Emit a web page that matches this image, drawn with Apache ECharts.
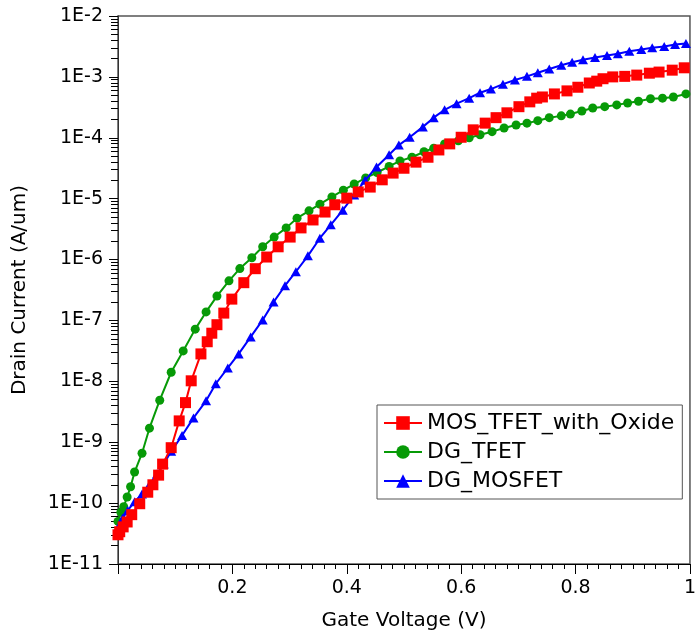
<!DOCTYPE html>
<html>
<head>
<meta charset="utf-8">
<script src="https://cdn.jsdelivr.net/npm/echarts@6/dist/echarts.min.js"></script>
<style>
  html, body { margin: 0; padding: 0; background: #fff; }
  #chart { width: 699px; height: 639px; }
</style>
</head>
<body>
<div id="chart"></div>
<script>
// Gate voltage (V) and drain current (A/um) for each device
const gateRed = [0.000, 0.003, 0.009, 0.016, 0.024, 0.038, 0.052, 0.061, 0.071, 0.078, 0.093, 0.107, 0.118, 0.128, 0.145, 0.156, 0.164, 0.173, 0.185, 0.199, 0.220, 0.240, 0.260, 0.280, 0.301, 0.320, 0.341, 0.362, 0.379, 0.400, 0.420, 0.441, 0.462, 0.481, 0.500, 0.521, 0.542, 0.561, 0.580, 0.600, 0.621, 0.642, 0.661, 0.680, 0.701, 0.720, 0.732, 0.742, 0.763, 0.785, 0.804, 0.824, 0.837, 0.848, 0.865, 0.886, 0.907, 0.929, 0.946, 0.969, 0.990];
const currentRed = [3.02e-11, 3.39e-11, 4.07e-11, 4.90e-11, 6.46e-11, 9.77e-11, 1.51e-10, 2.00e-10, 2.88e-10, 4.37e-10, 8.13e-10, 2.24e-9, 4.47e-9, 1.02e-8, 2.82e-8, 4.47e-8, 6.17e-8, 8.51e-8, 1.32e-7, 2.24e-7, 4.17e-7, 7.08e-7, 1.10e-6, 1.62e-6, 2.34e-6, 3.31e-6, 4.47e-6, 6.03e-6, 7.94e-6, 1.02e-5, 1.29e-5, 1.55e-5, 2.04e-5, 2.63e-5, 3.16e-5, 3.98e-5, 4.79e-5, 6.31e-5, 7.94e-5, 1.02e-4, 1.35e-4, 1.74e-4, 2.14e-4, 2.57e-4, 3.24e-4, 3.89e-4, 4.47e-4, 4.68e-4, 5.25e-4, 5.89e-4, 6.76e-4, 7.94e-4, 8.51e-4, 9.33e-4, 1.00e-3, 1.02e-3, 1.07e-3, 1.15e-3, 1.20e-3, 1.29e-3, 1.41e-3];

const gateGreen = [0.000, 0.005, 0.010, 0.016, 0.022, 0.029, 0.042, 0.055, 0.073, 0.093, 0.114, 0.135, 0.154, 0.173, 0.194, 0.213, 0.234, 0.253, 0.273, 0.294, 0.313, 0.334, 0.353, 0.374, 0.394, 0.413, 0.433, 0.453, 0.474, 0.493, 0.514, 0.535, 0.552, 0.571, 0.595, 0.614, 0.633, 0.654, 0.675, 0.696, 0.715, 0.734, 0.754, 0.775, 0.791, 0.811, 0.830, 0.851, 0.872, 0.891, 0.910, 0.931, 0.952, 0.971, 0.993];
const currentGreen = [5.0e-11, 7.1e-11, 8.7e-11, 1.26e-10, 1.86e-10, 3.24e-10, 6.6e-10, 1.70e-9, 4.9e-9, 1.41e-8, 3.16e-8, 7.2e-8, 1.38e-7, 2.51e-7, 4.47e-7, 7.1e-7, 1.07e-6, 1.62e-6, 2.34e-6, 3.31e-6, 4.79e-6, 6.31e-6, 8.13e-6, 1.07e-5, 1.38e-5, 1.74e-5, 2.19e-5, 2.69e-5, 3.39e-5, 4.17e-5, 4.79e-5, 5.89e-5, 6.76e-5, 7.94e-5, 8.91e-5, 1.00e-4, 1.12e-4, 1.26e-4, 1.45e-4, 1.62e-4, 1.74e-4, 1.91e-4, 2.14e-4, 2.29e-4, 2.45e-4, 2.75e-4, 3.09e-4, 3.24e-4, 3.47e-4, 3.72e-4, 3.98e-4, 4.37e-4, 4.47e-4, 4.68e-4, 5.25e-4];

const gateBlue = [0.000, 0.008, 0.017, 0.029, 0.042, 0.055, 0.068, 0.080, 0.093, 0.112, 0.132, 0.154, 0.171, 0.192, 0.211, 0.232, 0.253, 0.272, 0.292, 0.311, 0.332, 0.353, 0.372, 0.393, 0.413, 0.432, 0.452, 0.474, 0.491, 0.510, 0.533, 0.552, 0.571, 0.592, 0.614, 0.633, 0.652, 0.673, 0.694, 0.715, 0.734, 0.754, 0.775, 0.794, 0.813, 0.834, 0.855, 0.874, 0.894, 0.915, 0.934, 0.955, 0.974, 0.993];
const currentBlue = [3.98e-11, 5.62e-11, 7.59e-11, 1.05e-10, 1.41e-10, 2.00e-10, 3.02e-10, 4.37e-10, 7.08e-10, 1.29e-9, 2.51e-9, 4.79e-9, 9.12e-9, 1.66e-8, 2.82e-8, 5.37e-8, 1.02e-7, 2.00e-7, 3.72e-7, 6.31e-7, 1.15e-6, 2.24e-6, 3.72e-6, 6.46e-6, 1.15e-5, 2.00e-5, 3.31e-5, 5.25e-5, 7.59e-5, 1.02e-4, 1.51e-4, 2.14e-4, 2.88e-4, 3.63e-4, 4.47e-4, 5.50e-4, 6.31e-4, 7.59e-4, 8.91e-4, 1.02e-3, 1.17e-3, 1.35e-3, 1.55e-3, 1.74e-3, 1.91e-3, 2.09e-3, 2.24e-3, 2.40e-3, 2.63e-3, 2.82e-3, 3.02e-3, 3.16e-3, 3.39e-3, 3.55e-3];

const seriesNames = ['MOS_TFET_with_Oxide', 'DG_TFET', 'DG_MOSFET'];
const xTickLabels = ['0', '0.2', '0.4', '0.6', '0.8', '1'];

const FONT = 'DejaVu Sans';

function pairs(xs, ys) {
  return xs.map((x, i) => [x, ys[i]]);
}

const chart = echarts.init(document.getElementById('chart'), null, { renderer: 'canvas' });

chart.setOption({
  animation: false,
  backgroundColor: '#ffffff',
  textStyle: { fontFamily: FONT },
  // plot frame: the grid border gives the top and right edges
  grid: { left: 118, right: 3, top: 16, bottom: 75, show: true, borderColor: '#555555', borderWidth: 1.5, backgroundColor: 'transparent' },
  legend: {
    data: seriesNames,
    orient: 'vertical',
    left: 377,
    top: 405,
    padding: [7, 8, 7, 6],
    itemGap: 7,
    itemWidth: 38,
    itemHeight: 17,
    borderColor: '#555555',
    borderWidth: 1,
    backgroundColor: '#ffffff',
    textStyle: { fontFamily: FONT, fontSize: 22, color: '#000' }
  },
  xAxis: {
    type: 'value',
    min: 0,
    max: 1,
    interval: 0.2,
    name: 'Gate Voltage (V)',
    nameLocation: 'middle',
    nameGap: 47,
    nameTextStyle: { fontFamily: FONT, fontSize: 20, color: '#000', verticalAlign: 'top' },
    axisLine: { show: true, onZero: false, lineStyle: { color: '#000', width: 1 } },
    axisTick: { show: true, length: 10, lineStyle: { color: '#000', width: 1 } },
    minorTick: { show: true, splitNumber: 10, length: 5, lineStyle: { color: '#000', width: 1 } },
    splitLine: { show: false },
    axisLabel: {
      showMinLabel: false,
      margin: 15,
      fontFamily: FONT,
      fontSize: 19,
      color: '#000',
      formatter: (v) => xTickLabels[Math.round(v / 0.2)]
    }
  },
  yAxis: [{
    // labelled current axis
    type: 'log',
    logBase: 10,
    min: 1e-11,
    max: 1e-2,
    splitNumber: 10,
    name: 'Drain Current (A/um)',
    nameLocation: 'middle',
    nameGap: 88,
    nameTextStyle: { fontFamily: FONT, fontSize: 20, color: '#000' },
    axisLine: { show: true, onZero: false, lineStyle: { color: '#333', width: 1 } },
    axisTick: { show: true, length: 9, lineStyle: { color: '#000', width: 1 } },
    minorTick: { show: true, splitNumber: 9, length: 7, lineStyle: { color: '#000', width: 1 } },
    splitLine: { show: false },
    axisLabel: {
      margin: 15,
      fontFamily: FONT,
      fontSize: 19,
      color: '#000',
      formatter: (v) => '1E' + Math.round(Math.log10(v))
    }
  }, {
    // bare companion axis on the same edge carrying the decade and 2..9 ticks
    type: 'log',
    position: 'left',
    offset: 0,
    min: 1e-11,
    max: 1e-2,
    splitNumber: 10,
    axisLine: { show: false, onZero: false },
    axisTick: { show: true, length: 9, lineStyle: { color: '#000', width: 1 } },
    minorTick: { show: true, splitNumber: 9, length: 7, lineStyle: { color: '#000', width: 1 } },
    axisLabel: { show: false },
    splitLine: { show: false }
  }],
  series: [
    {
      name: 'DG_TFET',
      type: 'line',
      yAxisIndex: 0,
      data: pairs(gateGreen, currentGreen),
      symbol: 'circle',
      symbolSize: 9,
      lineStyle: { color: '#079a07', width: 2 },
      itemStyle: { color: '#079a07' },
      z: 3
    },
    {
      name: 'DG_MOSFET',
      type: 'line',
      yAxisIndex: 0,
      data: pairs(gateBlue, currentBlue),
      symbol: 'triangle',
      symbolSize: [10, 9],
      lineStyle: { color: '#0000ff', width: 2 },
      itemStyle: { color: '#0000ff' },
      z: 4
    },
    {
      name: 'MOS_TFET_with_Oxide',
      type: 'line',
      yAxisIndex: 0,
      data: pairs(gateRed, currentRed),
      symbol: 'rect',
      symbolSize: 11,
      lineStyle: { color: '#ff0000', width: 2 },
      itemStyle: { color: '#ff0000' },
      z: 5
    }
  ]
});
</script>
</body>
</html>
